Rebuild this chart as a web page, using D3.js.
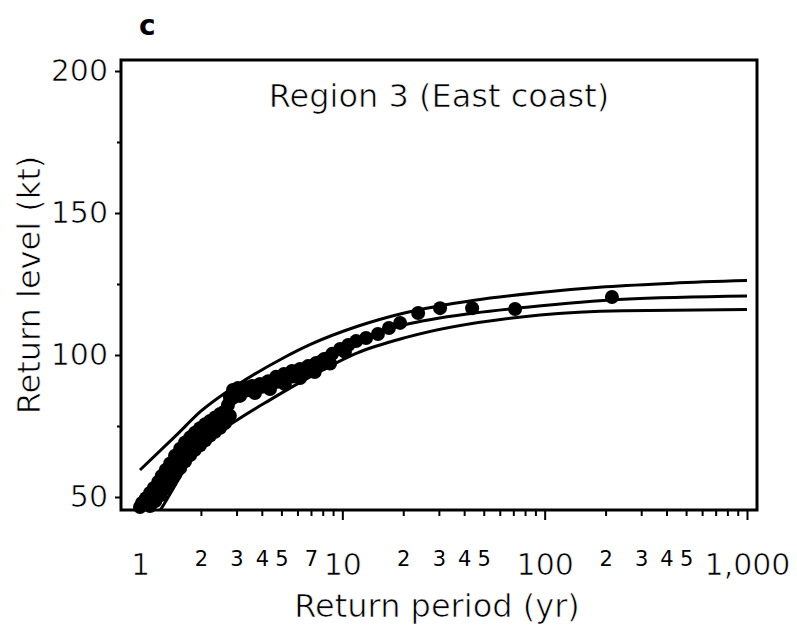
<!DOCTYPE html>
<html lang="en">
    <head>
        <meta charset="utf-8">
        <title>Region 3 return levels</title>
        <script src="https://d3js.org/d3.v7.min.js"></script>
        <style type="text/css">
            body {
                margin: 0;
                background: white;
            }
            .axis path {
                display: none;
            }
            .axis line {
                stroke: black;
                stroke-width: 2px;
            }
            text {
                font-family: "DejaVu Sans", sans-serif;
                fill: black;
                stroke: white;
                stroke-width: 0.7px;
            }
            .small-label {
                stroke: none;
            }
            .curve {
                fill: none;
                stroke: black;
                stroke-width: 3px;
            }
        </style>
    </head>
    <body>
        <script type="text/javascript">

            const w = 797;
            const h = 629;
            // plot box
            const box = {left: 121, right: 757, top: 60, bottom: 510};

            // fitted curve and its confidence band (return period yr, level kt)
            const upperBand = [[1, 59.5], [1.5, 71.5], [2, 80.2], [3, 89.3], [5, 98.6], [7, 103.8],
                               [12, 110.2], [20, 114.7], [45, 119.3], [95, 122], [200, 124],
                               [430, 125.3], [1000, 126.2]];
            const fitted = [[1, 46], [1.4, 60], [2, 73.5], [3, 83.5], [5, 92], [7, 98], [12, 105.5],
                            [20, 110.5], [45, 114.8], [81.6, 116.8], [245, 119.6], [1000, 120.8]];
            const lowerBand = [[1.15, 41], [1.26, 45.4], [1.98, 67.6], [3.02, 77.1], [4.39, 84.2], [6.92, 92.3],
                               [11.8, 100.7], [20.9, 106.3], [94.9, 114.1], [245, 115.6], [1000, 116]];

            // observed storms
            const obsPeriod = [1.0, 1.023, 1.07, 1.12, 1.17, 1.23, 1.28, 1.34, 1.41, 1.49, 1.58, 1.67, 1.77,
                               1.87, 1.98, 2.10, 2.22, 2.35, 2.49, 2.63, 2.72, 2.78, 2.88, 3.05, 3.30, 3.58,
                               3.92, 4.30, 4.70, 5.15, 5.64, 6.18, 6.77, 7.42, 8.13, 8.91, 9.76, 10.7, 11.7,
                               13.1, 15.0, 17.0, 19.3, 23.7, 30.4, 43.8, 71.4, 215,
                               1.12, 1.19, 1.26, 1.33, 1.41, 1.49, 1.58, 1.67, 1.77, 1.87, 1.98, 2.10, 2.22,
                               2.35, 2.49, 2.63, 2.78, 3.12, 3.7, 4.39, 5.2, 6.18, 7.3, 8.7, 10.3,
                               1.07, 1.15, 1.23, 1.31, 1.39, 1.47, 1.56, 1.65, 1.75, 1.86, 1.97, 2.09, 2.21,
                               2.34, 2.48, 3.4, 4.0, 4.8, 5.7, 6.8, 8.0];
            const obsLevel = [46.5, 47.9, 49.6, 51.4, 53.2, 55.3, 57.4, 59.5, 61.8, 64.5, 67.0, 69.2, 71.0,
                              72.6, 74.2, 75.6, 76.8, 78.0, 79.2, 80.2, 82.4, 85.2, 87.7, 88.4, 88.7, 89.1,
                              89.8, 90.8, 92.3, 93.3, 94.4, 95.1, 96.1, 97.2, 98.6, 100.4, 102.1, 103.5, 104.9,
                              106.0, 107.4, 109.5, 111.3, 114.8, 116.5, 116.5, 116.2, 120.4,
                              46.8, 48.6, 50.6, 52.8, 55.2, 57.8, 60.2, 62.6, 64.8, 66.6, 68.2, 70.0, 71.6,
                              73.0, 74.4, 76.0, 78.6, 85.6, 86.6, 88.0, 89.8, 91.9, 94.0, 97.0, 101.1,
                              47.8, 50.2, 52.8, 55.4, 58.0, 60.6, 63.0, 65.4, 67.6, 69.6, 71.4, 73.0, 74.4,
                              75.8, 77.0, 87.6, 88.8, 90.6, 92.4, 94.6, 96.8];

            const levelTicks = [50, 100, 150, 200];
            const levelMinor = [75, 125, 175];
            const periodMajor = [1, 10, 100, 1000];
            const periodMajorLabels = ["1", "10", "100", "1,000"];
            const periodMinor = [2, 3, 4, 5, 6, 7, 8, 9, 20, 30, 40, 50, 60, 70, 80, 90,
                                 200, 300, 400, 500, 600, 700, 800, 900];
            const periodMinorLabeled = [2, 3, 4, 5, 7, 20, 30, 40, 50, 200, 300, 400, 500];

            const xScale = d3.scaleLog()
                             .domain([1, 1000])
                             .range([140, 747]);

            const yScale = d3.scaleLinear()
                             .domain([50, 200])
                             .range([497, 71]);

            const svg = d3.select("body")
                    .append("svg")
                    .attr("width", w)
                    .attr("height", h)
                    .style("background", "white");

            svg.append("clipPath")
               .attr("id", "plotclip")
               .append("rect")
               .attr("x", box.left)
               .attr("y", box.top)
               .attr("width", box.right - box.left)
               .attr("height", box.bottom - box.top);

            // x axis: minor ticks (some labelled with the leading digit), then major ticks
            const minorAxis = d3.axisBottom(xScale)
                                .tickValues(periodMinor)
                                .tickSize(6)
                                .tickFormat(d => periodMinorLabeled.includes(d) ? String(d).charAt(0) : "");
            const gMinor = svg.append("g")
               .attr("class", "axis")
               .attr("transform", "translate(0," + box.bottom + ")")
               .call(minorAxis);
            gMinor.selectAll("text")
                  .attr("class", "small-label")
                  .attr("y", 56)
                  .attr("dy", null)
                  .style("font-size", "21px");

            const majorAxis = d3.axisBottom(xScale)
                                .tickValues(periodMajor)
                                .tickSize(10)
                                .tickFormat((d, i) => periodMajorLabels[i]);
            const gMajor = svg.append("g")
               .attr("class", "axis")
               .attr("transform", "translate(0," + box.bottom + ")")
               .call(majorAxis);
            gMajor.selectAll("line").filter(d => d === 1).remove();
            gMajor.selectAll("text")
                  .attr("y", 65)
                  .attr("dy", null)
                  .style("font-size", "30px");

            // y axis
            const leftAxis = d3.axisLeft(yScale)
                               .tickValues(levelTicks)
                               .tickSize(6)
                               .tickPadding(7);
            const gLeft = svg.append("g")
               .attr("class", "axis")
               .attr("transform", "translate(" + box.left + ",0)")
               .call(leftAxis);
            gLeft.selectAll("text")
                 .style("font-size", "30px");

            svg.append("g")
               .attr("class", "axis")
               .attr("transform", "translate(" + box.left + ",0)")
               .call(d3.axisLeft(yScale).tickValues(levelMinor).tickSize(4).tickFormat(""));

            // frame
            svg.append("rect")
               .attr("x", box.left)
               .attr("y", box.top)
               .attr("width", box.right - box.left)
               .attr("height", box.bottom - box.top)
               .attr("fill", "none")
               .attr("stroke", "black")
               .attr("stroke-width", 3);

            // curves
            const line = d3.line()
                .x(d => xScale(d[0]))
                .y(d => yScale(d[1]))
                .curve(d3.curveMonotoneX);

            svg.append("g")
               .attr("clip-path", "url(#plotclip)")
               .selectAll(".curve")
               .data([upperBand, fitted, lowerBand])
               .join("path")
               .attr("class", "curve")
               .attr("d", line);

            // observations
            const obs = obsPeriod.map((p, i) => ({period: p, level: obsLevel[i]}));
            svg.append("g")
               .selectAll("circle")
               .data(obs)
               .join("circle")
               .attr("cx", d => xScale(d.period))
               .attr("cy", d => yScale(d.level))
               .attr("r", 7)
               .attr("fill", "black");

            // texts
            svg.append("text")
               .attr("x", (box.left + box.right) / 2)
               .attr("y", 107)
               .attr("text-anchor", "middle")
               .style("font-size", "32px")
               .text("Region 3 (East coast)");

            svg.append("text")
               .attr("x", 437)
               .attr("y", 617)
               .attr("text-anchor", "middle")
               .style("font-size", "32px")
               .text("Return period (yr)");

            svg.append("text")
               .attr("transform", "translate(40," + ((box.top + box.bottom) / 2) + ") rotate(-90)")
               .attr("text-anchor", "middle")
               .style("font-size", "32px")
               .text("Return level (kt)");

            svg.append("text")
               .attr("x", 139)
               .attr("y", 35)
               .style("font-size", "28px")
               .style("font-weight", "bold")
               .style("stroke", "none")
               .text("c");

        </script>
    </body>
</html>
